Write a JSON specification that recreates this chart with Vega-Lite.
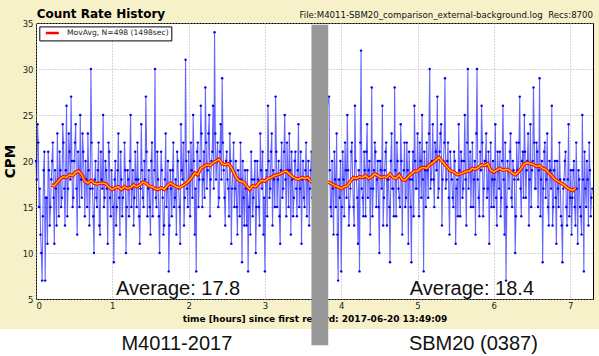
{
"$schema": "https://vega.github.io/schema/vega-lite/v6.json",
"autosize": {"type": "none"},
"width": 557,
"height": 276,
"padding": {"left": 36, "top": 23, "right": 6, "bottom": 57},
"background": "#F6F1C9",
"datasets": {
"raw": [
{"t":0.00,"c":20},{"t":0.02,"c":24},{"t":0.04,"c":15},{"t":0.06,"c":12},{"t":0.08,"c":7},{"t":0.10,"c":19},{"t":0.12,"c":7},{"t":0.14,"c":16},{"t":0.16,"c":21},{"t":0.18,"c":13},
{"t":0.20,"c":18},{"t":0.22,"c":22},{"t":0.24,"c":11},{"t":0.26,"c":17},{"t":0.28,"c":23},{"t":0.30,"c":14},{"t":0.32,"c":19},{"t":0.34,"c":16},{"t":0.36,"c":22},{"t":0.38,"c":13},
{"t":0.40,"c":26},{"t":0.42,"c":17},{"t":0.44,"c":21},{"t":0.46,"c":27},{"t":0.48,"c":15},{"t":0.50,"c":20},{"t":0.52,"c":24},{"t":0.54,"c":12},{"t":0.56,"c":19},{"t":0.58,"c":25},
{"t":0.60,"c":16},{"t":0.62,"c":21},{"t":0.64,"c":14},{"t":0.66,"c":18},{"t":0.68,"c":23},{"t":0.70,"c":13},{"t":0.72,"c":30},{"t":0.74,"c":17},{"t":0.76,"c":10},{"t":0.78,"c":20},
{"t":0.80,"c":15},{"t":0.82,"c":22},{"t":0.84,"c":12},{"t":0.86,"c":18},{"t":0.88,"c":25},{"t":0.90,"c":16},{"t":0.92,"c":19},{"t":0.94,"c":11},{"t":0.96,"c":21},{"t":0.98,"c":14},
{"t":1.00,"c":17},{"t":1.02,"c":9},{"t":1.04,"c":20},{"t":1.06,"c":15},{"t":1.08,"c":23},{"t":1.10,"c":12},{"t":1.12,"c":18},{"t":1.14,"c":16},{"t":1.16,"c":22},{"t":1.18,"c":10},
{"t":1.20,"c":19},{"t":1.22,"c":14},{"t":1.24,"c":25},{"t":1.26,"c":17},{"t":1.28,"c":13},{"t":1.30,"c":21},{"t":1.32,"c":15},{"t":1.34,"c":18},{"t":1.36,"c":11},{"t":1.38,"c":24},
{"t":1.40,"c":16},{"t":1.42,"c":20},{"t":1.44,"c":27},{"t":1.46,"c":14},{"t":1.48,"c":19},{"t":1.50,"c":12},{"t":1.52,"c":22},{"t":1.54,"c":17},{"t":1.56,"c":30},{"t":1.58,"c":15},
{"t":1.60,"c":18},{"t":1.62,"c":10},{"t":1.64,"c":21},{"t":1.66,"c":16},{"t":1.68,"c":13},{"t":1.70,"c":23},{"t":1.72,"c":17},{"t":1.74,"c":8},{"t":1.76,"c":19},{"t":1.78,"c":14},
{"t":1.80,"c":22},{"t":1.82,"c":16},{"t":1.84,"c":12},{"t":1.86,"c":20},{"t":1.88,"c":15},{"t":1.90,"c":24},{"t":1.92,"c":18},{"t":1.94,"c":13},{"t":1.96,"c":31},{"t":1.98,"c":17},
{"t":2.00,"c":21},{"t":2.02,"c":14},{"t":2.04,"c":19},{"t":2.06,"c":25},{"t":2.08,"c":12},{"t":2.10,"c":8},{"t":2.12,"c":22},{"t":2.14,"c":18},{"t":2.16,"c":26},{"t":2.18,"c":15},
{"t":2.20,"c":21},{"t":2.22,"c":28},{"t":2.24,"c":17},{"t":2.26,"c":23},{"t":2.28,"c":14},{"t":2.30,"c":20},{"t":2.32,"c":26},{"t":2.34,"c":34},{"t":2.36,"c":18},{"t":2.38,"c":22},
{"t":2.40,"c":16},{"t":2.42,"c":24},{"t":2.44,"c":29},{"t":2.46,"c":19},{"t":2.48,"c":13},{"t":2.50,"c":21},{"t":2.52,"c":17},{"t":2.54,"c":23},{"t":2.56,"c":11},{"t":2.58,"c":19},
{"t":2.60,"c":15},{"t":2.62,"c":20},{"t":2.64,"c":12},{"t":2.66,"c":18},{"t":2.68,"c":22},{"t":2.70,"c":9},{"t":2.72,"c":16},{"t":2.74,"c":19},{"t":2.76,"c":13},{"t":2.78,"c":8},
{"t":2.80,"c":17},{"t":2.82,"c":21},{"t":2.84,"c":14},{"t":2.86,"c":18},{"t":2.88,"c":10},{"t":2.90,"c":20},{"t":2.92,"c":15},{"t":2.94,"c":23},{"t":2.96,"c":17},{"t":2.98,"c":12},
{"t":3.00,"c":8},{"t":3.02,"c":19},{"t":3.04,"c":26},{"t":3.06,"c":16},{"t":3.08,"c":21},{"t":3.10,"c":13},{"t":3.12,"c":18},{"t":3.14,"c":27},{"t":3.16,"c":15},{"t":3.18,"c":20},
{"t":3.20,"c":11},{"t":3.22,"c":22},{"t":3.24,"c":17},{"t":3.26,"c":25},{"t":3.28,"c":14},{"t":3.30,"c":19},{"t":3.32,"c":23},{"t":3.34,"c":12},{"t":3.36,"c":18},{"t":3.38,"c":16},
{"t":3.40,"c":21},{"t":3.42,"c":14},{"t":3.44,"c":24},{"t":3.46,"c":17},{"t":3.48,"c":11},{"t":3.50,"c":20},{"t":3.52,"c":15},{"t":3.54,"c":22},{"t":3.56,"c":18},{"t":3.58,"c":13},
{"t":3.60,"c":19},{"t":3.62,"c":16},
{"t":3.84,"c":27},{"t":3.86,"c":15},{"t":3.88,"c":20},{"t":3.90,"c":12},{"t":3.92,"c":18},{"t":3.94,"c":23},{"t":3.96,"c":7},{"t":3.98,"c":16},
{"t":4.00,"c":8},{"t":4.02,"c":21},{"t":4.04,"c":14},{"t":4.06,"c":19},{"t":4.08,"c":25},{"t":4.10,"c":13},{"t":4.12,"c":17},{"t":4.14,"c":22},{"t":4.16,"c":15},{"t":4.18,"c":26},
{"t":4.20,"c":18},{"t":4.22,"c":11},{"t":4.24,"c":8},{"t":4.26,"c":32},{"t":4.28,"c":16},{"t":4.30,"c":21},{"t":4.32,"c":14},{"t":4.34,"c":24},{"t":4.36,"c":19},{"t":4.38,"c":12},
{"t":4.40,"c":28},{"t":4.42,"c":17},{"t":4.44,"c":22},{"t":4.46,"c":15},{"t":4.48,"c":20},{"t":4.50,"c":10},{"t":4.52,"c":19},{"t":4.54,"c":26},{"t":4.56,"c":16},{"t":4.58,"c":21},
{"t":4.60,"c":13},{"t":4.62,"c":18},{"t":4.64,"c":9},{"t":4.66,"c":23},{"t":4.68,"c":17},{"t":4.70,"c":28},{"t":4.72,"c":14},{"t":4.74,"c":20},{"t":4.76,"c":16},{"t":4.78,"c":24},
{"t":4.80,"c":12},{"t":4.82,"c":19},{"t":4.84,"c":15},{"t":4.86,"c":22},{"t":4.88,"c":11},{"t":4.90,"c":18},{"t":4.92,"c":9},{"t":4.94,"c":21},{"t":4.96,"c":26},{"t":4.98,"c":17},
{"t":5.00,"c":23},{"t":5.02,"c":14},{"t":5.04,"c":20},{"t":5.06,"c":25},{"t":5.08,"c":8},{"t":5.10,"c":19},{"t":5.12,"c":22},{"t":5.14,"c":16},{"t":5.16,"c":30},{"t":5.18,"c":18},
{"t":5.20,"c":24},{"t":5.22,"c":15},{"t":5.24,"c":21},{"t":5.26,"c":27},{"t":5.28,"c":17},{"t":5.30,"c":23},{"t":5.32,"c":13},{"t":5.34,"c":20},{"t":5.36,"c":29},{"t":5.38,"c":18},
{"t":5.40,"c":22},{"t":5.42,"c":12},{"t":5.44,"c":19},{"t":5.46,"c":16},{"t":5.48,"c":21},{"t":5.50,"c":11},{"t":5.52,"c":18},{"t":5.54,"c":24},{"t":5.56,"c":14},{"t":5.58,"c":20},
{"t":5.60,"c":17},{"t":5.62,"c":25},{"t":5.64,"c":13},{"t":5.66,"c":30},{"t":5.68,"c":19},{"t":5.70,"c":15},{"t":5.72,"c":22},{"t":5.74,"c":18},{"t":5.76,"c":12},{"t":5.78,"c":30},
{"t":5.80,"c":16},{"t":5.82,"c":21},{"t":5.84,"c":26},{"t":5.86,"c":14},{"t":5.88,"c":20},{"t":5.90,"c":23},{"t":5.92,"c":17},{"t":5.94,"c":11},{"t":5.96,"c":22},{"t":5.98,"c":18},
{"t":6.00,"c":15},{"t":6.02,"c":24},{"t":6.04,"c":13},{"t":6.06,"c":19},{"t":6.08,"c":21},{"t":6.10,"c":16},{"t":6.12,"c":26},{"t":6.14,"c":12},{"t":6.16,"c":7},{"t":6.18,"c":20},
{"t":6.20,"c":17},{"t":6.22,"c":23},{"t":6.24,"c":15},{"t":6.26,"c":19},{"t":6.28,"c":10},{"t":6.30,"c":22},{"t":6.32,"c":18},{"t":6.34,"c":27},{"t":6.36,"c":14},{"t":6.38,"c":21},
{"t":6.40,"c":25},{"t":6.42,"c":16},{"t":6.44,"c":20},{"t":6.46,"c":13},{"t":6.48,"c":24},{"t":6.50,"c":19},{"t":6.52,"c":28},{"t":6.54,"c":17},{"t":6.56,"c":22},{"t":6.58,"c":15},
{"t":6.60,"c":29},{"t":6.62,"c":18},{"t":6.64,"c":9},{"t":6.66,"c":21},{"t":6.68,"c":16},{"t":6.70,"c":23},{"t":6.72,"c":13},{"t":6.74,"c":19},{"t":6.76,"c":26},{"t":6.78,"c":15},
{"t":6.80,"c":20},{"t":6.82,"c":11},{"t":6.84,"c":17},{"t":6.86,"c":22},{"t":6.88,"c":14},{"t":6.90,"c":9},{"t":6.92,"c":18},{"t":6.94,"c":21},{"t":6.96,"c":13},{"t":6.98,"c":24},
{"t":7.00,"c":16},{"t":7.02,"c":12},{"t":7.04,"c":19},{"t":7.06,"c":15},{"t":7.08,"c":22},{"t":7.10,"c":11},{"t":7.12,"c":18},{"t":7.14,"c":14},{"t":7.16,"c":25},{"t":7.18,"c":8},
{"t":7.20,"c":17},{"t":7.22,"c":20},{"t":7.24,"c":13},{"t":7.26,"c":19},{"t":7.28,"c":16},
{"t":0.01,"c":18},{"t":0.03,"c":22},{"t":0.05,"c":17},{"t":0.07,"c":10},{"t":0.09,"c":14},{"t":0.11,"c":21},{"t":0.13,"c":16},{"t":0.15,"c":11},{"t":0.17,"c":19},{"t":0.19,"c":15},
{"t":0.21,"c":20},{"t":0.23,"c":16},{"t":0.25,"c":19},{"t":0.27,"c":13},{"t":0.29,"c":18},{"t":0.31,"c":21},{"t":0.33,"c":15},{"t":0.35,"c":24},{"t":0.37,"c":17},{"t":0.39,"c":19},
{"t":0.41,"c":14},{"t":0.43,"c":23},{"t":0.45,"c":18},{"t":0.47,"c":20},{"t":0.49,"c":16},{"t":0.51,"c":22},{"t":0.53,"c":17},{"t":0.55,"c":21},{"t":0.57,"c":15},{"t":0.59,"c":18},
{"t":0.61,"c":23},{"t":0.63,"c":18},{"t":0.65,"c":20},{"t":0.67,"c":15},{"t":0.69,"c":19},{"t":0.71,"c":17},{"t":0.73,"c":22},{"t":0.75,"c":14},{"t":0.77,"c":18},{"t":0.79,"c":16},
{"t":0.81,"c":19},{"t":0.83,"c":13},{"t":0.85,"c":21},{"t":0.87,"c":17},{"t":0.89,"c":15},{"t":0.91,"c":20},{"t":0.93,"c":17},{"t":0.95,"c":22},{"t":0.97,"c":16},{"t":0.99,"c":19},
{"t":1.01,"c":15},{"t":1.03,"c":18},{"t":1.05,"c":13},{"t":1.07,"c":19},{"t":1.09,"c":16},{"t":1.11,"c":21},{"t":1.13,"c":14},{"t":1.15,"c":17},{"t":1.17,"c":19},{"t":1.19,"c":15},
{"t":1.21,"c":18},{"t":1.23,"c":20},{"t":1.25,"c":15},{"t":1.27,"c":19},{"t":1.29,"c":16},{"t":1.31,"c":18},{"t":1.33,"c":22},{"t":1.35,"c":14},{"t":1.37,"c":17},{"t":1.39,"c":19},
{"t":1.41,"c":15},{"t":1.43,"c":18},{"t":1.45,"c":21},{"t":1.47,"c":17},{"t":1.49,"c":15},{"t":1.51,"c":20},{"t":1.53,"c":14},{"t":1.55,"c":19},{"t":1.57,"c":16},{"t":1.59,"c":21},
{"t":1.61,"c":14},{"t":1.63,"c":17},{"t":1.65,"c":19},{"t":1.67,"c":12},{"t":1.69,"c":18},{"t":1.71,"c":15},{"t":1.73,"c":20},{"t":1.75,"c":13},{"t":1.77,"c":17},{"t":1.79,"c":19},
{"t":1.81,"c":15},{"t":1.83,"c":18},{"t":1.85,"c":21},{"t":1.87,"c":17},{"t":1.89,"c":11},{"t":1.91,"c":19},{"t":1.93,"c":22},{"t":1.95,"c":16},{"t":1.97,"c":20},{"t":1.99,"c":15},
{"t":2.01,"c":18},{"t":2.03,"c":22},{"t":2.05,"c":16},{"t":2.07,"c":20},{"t":2.09,"c":17},{"t":2.11,"c":21},{"t":2.13,"c":15},{"t":2.15,"c":20},{"t":2.17,"c":23},{"t":2.19,"c":18},
{"t":2.21,"c":16},{"t":2.23,"c":22},{"t":2.25,"c":19},{"t":2.27,"c":25},{"t":2.29,"c":18},{"t":2.31,"c":21},{"t":2.33,"c":17},{"t":2.35,"c":23},{"t":2.37,"c":20},{"t":2.39,"c":15},
{"t":2.41,"c":21},{"t":2.43,"c":18},{"t":2.45,"c":22},{"t":2.47,"c":16},{"t":2.49,"c":20},{"t":2.51,"c":18},{"t":2.53,"c":14},{"t":2.55,"c":20},{"t":2.57,"c":17},{"t":2.59,"c":22},
{"t":2.61,"c":17},{"t":2.63,"c":15},{"t":2.65,"c":19},{"t":2.67,"c":14},{"t":2.69,"c":18},{"t":2.71,"c":20},{"t":2.73,"c":13},{"t":2.75,"c":17},{"t":2.77,"c":19},{"t":2.79,"c":15},
{"t":2.81,"c":12},{"t":2.83,"c":18},{"t":2.85,"c":16},{"t":2.87,"c":20},{"t":2.89,"c":15},{"t":2.91,"c":18},{"t":2.93,"c":13},{"t":2.95,"c":19},{"t":2.97,"c":21},{"t":2.99,"c":16},
{"t":3.01,"c":18},{"t":3.03,"c":14},{"t":3.05,"c":20},{"t":3.07,"c":17},{"t":3.09,"c":23},{"t":3.11,"c":19},{"t":3.13,"c":15},{"t":3.15,"c":21},{"t":3.17,"c":18},{"t":3.19,"c":14},
{"t":3.21,"c":19},{"t":3.23,"c":16},{"t":3.25,"c":21},{"t":3.27,"c":18},{"t":3.29,"c":22},{"t":3.31,"c":15},{"t":3.33,"c":19},{"t":3.35,"c":21},{"t":3.37,"c":14},{"t":3.39,"c":20},
{"t":3.41,"c":17},{"t":3.43,"c":19},{"t":3.45,"c":15},{"t":3.47,"c":21},{"t":3.49,"c":18},{"t":3.51,"c":16},{"t":3.53,"c":19},{"t":3.55,"c":14},{"t":3.57,"c":20},{"t":3.59,"c":17},
{"t":3.61,"c":21},
{"t":3.85,"c":19},{"t":3.87,"c":14},{"t":3.89,"c":17},{"t":3.91,"c":21},{"t":3.93,"c":15},{"t":3.95,"c":12},{"t":3.97,"c":18},{"t":3.99,"c":20},
{"t":4.01,"c":15},{"t":4.03,"c":18},{"t":4.05,"c":22},{"t":4.07,"c":16},{"t":4.09,"c":19},{"t":4.11,"c":15},{"t":4.13,"c":21},{"t":4.15,"c":18},{"t":4.17,"c":13},{"t":4.19,"c":20},
{"t":4.21,"c":16},{"t":4.23,"c":19},{"t":4.25,"c":22},{"t":4.27,"c":17},{"t":4.29,"c":14},{"t":4.31,"c":19},{"t":4.33,"c":21},{"t":4.35,"c":16},{"t":4.37,"c":20},{"t":4.39,"c":17},
{"t":4.41,"c":14},{"t":4.43,"c":19},{"t":4.45,"c":21},{"t":4.47,"c":18},{"t":4.49,"c":15},{"t":4.51,"c":20},{"t":4.53,"c":17},{"t":4.55,"c":13},{"t":4.57,"c":19},{"t":4.59,"c":22},
{"t":4.61,"c":18},{"t":4.63,"c":15},{"t":4.65,"c":20},{"t":4.67,"c":17},{"t":4.69,"c":14},{"t":4.71,"c":19},{"t":4.73,"c":22},{"t":4.75,"c":17},{"t":4.77,"c":15},{"t":4.79,"c":20},
{"t":4.81,"c":18},{"t":4.83,"c":22},{"t":4.85,"c":16},{"t":4.87,"c":19},{"t":4.89,"c":21},{"t":4.91,"c":15},{"t":4.93,"c":18},{"t":4.95,"c":14},{"t":4.97,"c":20},{"t":4.99,"c":17},
{"t":5.01,"c":19},{"t":5.03,"c":22},{"t":5.05,"c":16},{"t":5.07,"c":18},{"t":5.09,"c":21},{"t":5.11,"c":15},{"t":5.13,"c":19},{"t":5.15,"c":23},{"t":5.17,"c":17},{"t":5.19,"c":20},
{"t":5.21,"c":18},{"t":5.23,"c":22},{"t":5.25,"c":19},{"t":5.27,"c":16},{"t":5.29,"c":21},{"t":5.31,"c":24},{"t":5.33,"c":18},{"t":5.35,"c":22},{"t":5.37,"c":17},{"t":5.39,"c":20},
{"t":5.41,"c":16},{"t":5.43,"c":21},{"t":5.45,"c":18},{"t":5.47,"c":15},{"t":5.49,"c":20},{"t":5.51,"c":17},{"t":5.53,"c":14},{"t":5.55,"c":19},{"t":5.57,"c":21},{"t":5.59,"c":16},
{"t":5.61,"c":20},{"t":5.63,"c":18},{"t":5.65,"c":22},{"t":5.67,"c":17},{"t":5.69,"c":21},{"t":5.71,"c":19},{"t":5.73,"c":15},{"t":5.75,"c":20},{"t":5.77,"c":23},{"t":5.79,"c":18},
{"t":5.81,"c":14},{"t":5.83,"c":19},{"t":5.85,"c":22},{"t":5.87,"c":17},{"t":5.89,"c":20},{"t":5.91,"c":16},{"t":5.93,"c":21},{"t":5.95,"c":19},{"t":5.97,"c":15},{"t":5.99,"c":20},
{"t":6.01,"c":18},{"t":6.03,"c":16},{"t":6.05,"c":21},{"t":6.07,"c":17},{"t":6.09,"c":14},{"t":6.11,"c":20},{"t":6.13,"c":18},{"t":6.15,"c":22},{"t":6.17,"c":15},{"t":6.19,"c":19},
{"t":6.21,"c":21},{"t":6.23,"c":16},{"t":6.25,"c":20},{"t":6.27,"c":18},{"t":6.29,"c":14},{"t":6.31,"c":19},{"t":6.33,"c":22},{"t":6.35,"c":17},{"t":6.37,"c":20},{"t":6.39,"c":16},
{"t":6.41,"c":21},{"t":6.43,"c":19},{"t":6.45,"c":23},{"t":6.47,"c":18},{"t":6.49,"c":15},{"t":6.51,"c":20},{"t":6.53,"c":22},{"t":6.55,"c":17},{"t":6.57,"c":21},{"t":6.59,"c":19},
{"t":6.61,"c":14},{"t":6.63,"c":20},{"t":6.65,"c":17},{"t":6.67,"c":22},{"t":6.69,"c":18},{"t":6.71,"c":15},{"t":6.73,"c":20},{"t":6.75,"c":17},{"t":6.77,"c":13},{"t":6.79,"c":19},
{"t":6.81,"c":16},{"t":6.83,"c":20},{"t":6.85,"c":15},{"t":6.87,"c":18},{"t":6.89,"c":13},{"t":6.91,"c":17},{"t":6.93,"c":20},{"t":6.95,"c":15},{"t":6.97,"c":18},{"t":6.99,"c":14},
{"t":7.01,"c":19},{"t":7.03,"c":16},{"t":7.05,"c":20},{"t":7.07,"c":13},{"t":7.09,"c":17},{"t":7.11,"c":19},{"t":7.13,"c":15},{"t":7.15,"c":12},{"t":7.17,"c":18},{"t":7.19,"c":21},
{"t":7.21,"c":15},{"t":7.23,"c":18},{"t":7.25,"c":22},{"t":7.27,"c":14},{"t":7.29,"c":17}
],
"ma": [
{"t":0.20,"c":17.4},{"t":0.24,"c":17.3},{"t":0.28,"c":17.7},{"t":0.32,"c":18.1},{"t":0.36,"c":18.3},{"t":0.40,"c":18.2},{"t":0.44,"c":18.5},{"t":0.48,"c":18.4},{"t":0.52,"c":18.8},{"t":0.56,"c":18.9},
{"t":0.60,"c":18.5},{"t":0.64,"c":17.8},{"t":0.68,"c":17.6},{"t":0.72,"c":17.9},{"t":0.76,"c":17.6},{"t":0.80,"c":17.5},{"t":0.84,"c":17.6},{"t":0.88,"c":17.6},{"t":0.92,"c":17.5},{"t":0.96,"c":17.1},
{"t":1.00,"c":16.9},{"t":1.04,"c":17.1},{"t":1.08,"c":17.2},{"t":1.12,"c":16.9},{"t":1.16,"c":17.2},{"t":1.20,"c":17.0},{"t":1.24,"c":17.1},{"t":1.28,"c":17.4},{"t":1.32,"c":17.2},{"t":1.36,"c":17.4},
{"t":1.40,"c":17.7},{"t":1.44,"c":17.6},{"t":1.48,"c":17.3},{"t":1.52,"c":17.2},{"t":1.56,"c":17.0},{"t":1.60,"c":16.9},{"t":1.64,"c":17.1},{"t":1.68,"c":16.9},{"t":1.72,"c":17.3},{"t":1.76,"c":17.6},
{"t":1.80,"c":17.4},{"t":1.84,"c":17.2},{"t":1.88,"c":17.1},{"t":1.92,"c":17.3},{"t":1.96,"c":17.5},{"t":2.00,"c":17.8},{"t":2.04,"c":18.2},{"t":2.08,"c":18.7},{"t":2.12,"c":18.5},{"t":2.16,"c":19.2},
{"t":2.20,"c":19.4},{"t":2.24,"c":19.6},{"t":2.28,"c":19.5},{"t":2.32,"c":19.8},{"t":2.36,"c":20.0},{"t":2.40,"c":20.2},{"t":2.44,"c":19.7},{"t":2.48,"c":19.6},{"t":2.52,"c":19.7},{"t":2.56,"c":19.3},
{"t":2.60,"c":18.6},{"t":2.64,"c":18.0},{"t":2.68,"c":17.8},{"t":2.72,"c":17.7},{"t":2.76,"c":17.3},{"t":2.80,"c":16.9},{"t":2.84,"c":17.3},{"t":2.88,"c":17.2},{"t":2.92,"c":17.6},{"t":2.96,"c":17.9},
{"t":3.00,"c":17.8},{"t":3.04,"c":18.1},{"t":3.08,"c":18.2},{"t":3.12,"c":18.4},{"t":3.16,"c":18.5},{"t":3.20,"c":18.6},{"t":3.24,"c":18.8},{"t":3.28,"c":18.9},{"t":3.32,"c":18.6},{"t":3.36,"c":18.3},
{"t":3.40,"c":18.1},{"t":3.44,"c":18.0},{"t":3.48,"c":18.2},{"t":3.52,"c":18.1},{"t":3.56,"c":18.2},{"t":3.60,"c":17.8},{"t":3.64,"c":17.6},
{"t":3.84,"c":17.7},{"t":3.88,"c":17.5},{"t":3.92,"c":17.3},{"t":3.96,"c":17.2},{"t":4.00,"c":17.0},{"t":4.04,"c":17.2},{"t":4.08,"c":17.3},{"t":4.12,"c":17.8},{"t":4.16,"c":18.2},{"t":4.20,"c":18.1},
{"t":4.24,"c":18.3},{"t":4.28,"c":18.2},{"t":4.32,"c":18.4},{"t":4.36,"c":18.1},{"t":4.40,"c":18.3},{"t":4.44,"c":18.6},{"t":4.48,"c":18.4},{"t":4.52,"c":18.2},{"t":4.56,"c":18.3},{"t":4.60,"c":18.2},
{"t":4.64,"c":18.6},{"t":4.68,"c":18.2},{"t":4.72,"c":18.1},{"t":4.76,"c":18.5},{"t":4.80,"c":18.0},{"t":4.84,"c":17.9},{"t":4.88,"c":18.3},{"t":4.92,"c":18.6},{"t":4.96,"c":18.9},{"t":5.00,"c":18.9},
{"t":5.04,"c":19.2},{"t":5.08,"c":19.3},{"t":5.12,"c":19.2},{"t":5.16,"c":19.6},{"t":5.20,"c":19.8},{"t":5.24,"c":20.1},{"t":5.28,"c":20.4},{"t":5.32,"c":20.0},{"t":5.36,"c":19.6},{"t":5.40,"c":19.2},
{"t":5.44,"c":18.9},{"t":5.48,"c":18.8},{"t":5.52,"c":18.5},{"t":5.56,"c":18.6},{"t":5.60,"c":18.7},{"t":5.64,"c":18.9},{"t":5.68,"c":18.9},{"t":5.72,"c":19.2},{"t":5.76,"c":19.1},{"t":5.80,"c":19.3},
{"t":5.84,"c":19.6},{"t":5.88,"c":19.5},{"t":5.92,"c":19.7},{"t":5.96,"c":19.0},{"t":6.00,"c":18.8},{"t":6.04,"c":19.0},{"t":6.08,"c":19.2},{"t":6.12,"c":19.0},{"t":6.16,"c":19.1},{"t":6.20,"c":19.0},
{"t":6.24,"c":18.7},{"t":6.28,"c":18.5},{"t":6.32,"c":18.8},{"t":6.36,"c":19.2},{"t":6.40,"c":19.7},{"t":6.44,"c":19.8},{"t":6.48,"c":19.7},{"t":6.52,"c":19.6},{"t":6.56,"c":19.4},{"t":6.60,"c":19.5},
{"t":6.64,"c":19.2},{"t":6.68,"c":19.1},{"t":6.72,"c":18.7},{"t":6.76,"c":18.4},{"t":6.80,"c":18.0},{"t":6.84,"c":17.8},{"t":6.88,"c":17.6},{"t":6.92,"c":17.4},{"t":6.96,"c":17.1},{"t":7.00,"c":16.9},
{"t":7.04,"c":16.8},{"t":7.07,"c":17.1}
],
"strip": [{"t":-1,"t2":8,"c":1.74,"c2":-3}],
"bar": [{"t":3.61,"t2":3.83,"c":34.82,"c2":-0.04}],
"big": [
{"t":1.863,"c":5.47,"label":"Average: 17.8"},
{"t":5.713,"c":5.47,"label":"Average: 18.4"},
{"t":1.846,"c":-0.51,"label":"M4011-2017"},
{"t":5.732,"c":-0.51,"label":"SBM20 (0387)"}
],
"file": [{"t":7.3,"c":35.58,"label":"File:M4011-SBM20_comparison_external-background.log \u00a0Recs:8700"}],
"ttl": [{"t":0,"c":35.52,"label":"Count Rate History"}]
},
"encoding": {
"x": {"field": "t", "type": "quantitative", "scale": {"domain": [0, 7.3], "nice": false, "zero": false},
"axis": {"values": [0,1,2,3,4,5,6,7], "title": "time [hours] since first record: 2017-06-20 13:49:09", "labelPadding": 2, "titleFontSize": 9, "titlePadding": 5}},
"y": {"field": "c", "type": "quantitative", "scale": {"domain": [5, 35], "nice": false, "zero": false},
"axis": {"values": [5,10,15,20,25,30,35], "title": "CPM", "labelPadding": 3, "titleFontSize": 13.5, "titlePadding": 5}}
},
"layer": [
{"data": {"name": "strip"}, "mark": {"type": "rect", "color": "#ffffff", "clip": false},
 "encoding": {"x2": {"field": "t2"}, "y2": {"field": "c2"}}},
{"data": {"name": "raw"}, "mark": {"type": "line", "color": "#0000ff", "strokeWidth": 1.1, "opacity": 0.6}},
{"data": {"name": "raw"}, "mark": {"type": "point", "filled": true, "color": "#0000ee", "size": 6, "opacity": 1}},
{"data": {"name": "ma"}, "mark": {"type": "line", "strokeWidth": 3.5},
 "encoding": {"color": {"datum": "MovAvg, N=498 (1498sec)", "type": "nominal", "scale": {"range": ["#ff0000"]},
 "legend": {"orient": "none", "legendX": 3.3, "legendY": 3.4, "title": null, "padding": 2, "clipHeight": 9.3, "strokeColor": "#000000", "fillColor": "#ffffff", "symbolType": "stroke", "symbolStrokeWidth": 2.5, "symbolSize": 169, "symbolOffset": 3, "labelOffset": 6.7, "labelFontSize": 7.6, "labelFont": "DejaVu Sans", "labelColor": "#222222"}}}},
{"data": {"name": "ma"}, "mark": {"type": "line", "strokeWidth": 1.4, "color": "#ffc400"}},
{"data": {"name": "bar"}, "mark": {"type": "rect", "color": "#999999", "clip": false},
 "encoding": {"x2": {"field": "t2"}, "y2": {"field": "c2"}}},
{"data": {"name": "big"}, "mark": {"type": "text", "font": "Liberation Sans", "fontSize": 20, "align": "center", "baseline": "alphabetic", "color": "#111111", "clip": false},
 "encoding": {"text": {"field": "label"}}},
{"data": {"name": "file"}, "mark": {"type": "text", "font": "DejaVu Sans", "fontSize": 8.6, "align": "right", "baseline": "alphabetic", "color": "#111111", "clip": false},
 "encoding": {"text": {"field": "label"}}},
{"data": {"name": "ttl"}, "mark": {"type": "text", "font": "DejaVu Sans", "fontSize": 12, "fontWeight": "bold", "align": "left", "baseline": "alphabetic", "dx": 0.7, "color": "#000000", "clip": false},
 "encoding": {"text": {"field": "label"}}}
],
"config": {
"view": {"fill": "#ffffff", "stroke": "#000000", "strokeWidth": 1},
"font": "DejaVu Sans",
"axis": {"grid": true, "gridColor": "#aaaaaa", "gridDash": [1, 2], "gridWidth": 1, "domain": false, "ticks": false, "labelFont": "DejaVu Sans", "labelFontSize": 8.5, "labelColor": "#222222", "titleFont": "DejaVu Sans", "titleFontWeight": "bold", "titleColor": "#000000"}
}
}
